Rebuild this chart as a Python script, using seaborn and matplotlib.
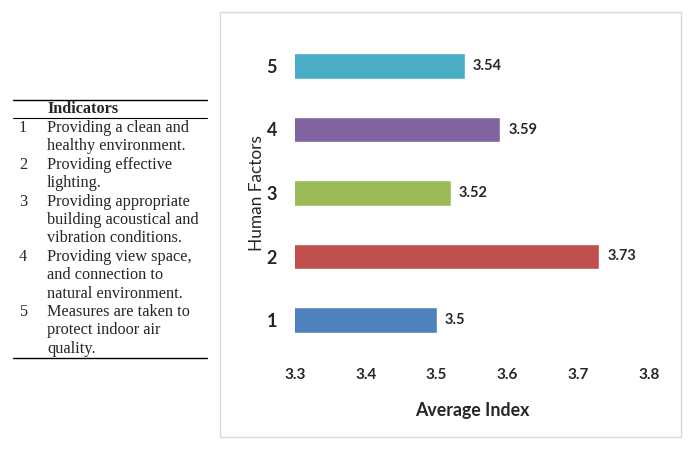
import matplotlib
matplotlib.use("Agg")
import matplotlib.pyplot as plt
import seaborn as sns
import pandas as pd
from matplotlib.patches import Rectangle
from matplotlib.lines import Line2D

factors = ["1", "2", "3", "4", "5"]
values = [3.5, 3.73, 3.52, 3.59, 3.54]
colors = ["#4F81BD", "#C0504D", "#9BBB59", "#8064A2", "#4BACC6"]
x_ticks = [3.3, 3.4, 3.5, 3.6, 3.7, 3.8]
table_header = "Indicators"
indicator_lines = [
    ["Providing a clean and", "healthy environment."],
    ["Providing effective", "lighting."],
    ["Providing appropriate", "building acoustical and", "vibration conditions."],
    ["Providing view space,", "and connection to", "natural environment."],
    ["Measures are taken to", "protect indoor air", "quality."],
]

sns.set_theme(style="white")
plt.rcParams['font.family'] = ['Lato', 'DejaVu Sans']

W, H = 696, 453
fig = plt.figure(figsize=(W / 100, H / 100), dpi=100)

def fx(px):
    return px / W

def fy(py):
    return 1 - py / H

# chart border
fig.patches.append(Rectangle((fx(220), fy(437)), fx(681) - fx(220), fy(12) - fy(437),
                             transform=fig.transFigure, fill=False,
                             edgecolor="#D9D9D9", linewidth=1))

ax = fig.add_axes([fx(295), fy(351.75), fx(649) - fx(295), fy(34.25) - fy(351.75)])
df = pd.DataFrame({"factor": factors, "value": values})
order = ["5", "4", "3", "2", "1"]
pal = dict(zip(factors, colors))
sns.barplot(data=df, x="value", y="factor", order=order, hue="factor",
            palette=pal, width=0.4, ax=ax, legend=False, saturation=1)

ax.set_xlim(3.3, 3.8)
ax.set_ylim(4.5, -0.5)
ax.set_xticks(x_ticks)
ax.set_xticklabels([f"{t:.1f}" for t in x_ticks], fontsize=11, fontweight="bold")
ax.tick_params(axis="x", length=0, pad=12)
ax.tick_params(axis="y", length=0, pad=13)
for lbl in ax.get_yticklabels():
    lbl.set_fontsize(13)
    lbl.set_fontweight("bold")
for s in ax.spines.values():
    s.set_visible(False)
ax.set_xlabel("Average Index", fontsize=12.8, fontweight="bold", labelpad=14)
ax.set_ylabel("Human Factors", fontsize=12.4, labelpad=1)
ax.grid(False)

for i, f in enumerate(order):
    v = values[factors.index(f)]
    ax.text(v + 0.011, i, f"{v:g}", va="center", ha="left", fontsize=10.5, fontweight="bold")

# indicator table
serif = ['Liberation Serif', 'DejaVu Serif']
fs = 11.7
fig.add_artist(Line2D([fx(13), fx(207)], [fy(99.5), fy(99.5)], color="black", lw=1))
fig.add_artist(Line2D([fx(13), fx(207)], [fy(118), fy(118)], color="black", lw=0.8))
fig.add_artist(Line2D([fx(13), fx(207)], [fy(358), fy(358)], color="black", lw=1))
fig.text(fx(47), fy(109), table_header, family=serif, fontsize=fs, fontweight="bold", va="center")
row_y = 128
step = 18.4
for n, lines in enumerate(indicator_lines):
    fig.text(fx(19), fy(row_y), str(n + 1), family=serif, fontsize=fs, va="center")
    for ln in lines:
        fig.text(fx(47), fy(row_y), ln, family=serif, fontsize=fs, va="center")
        row_y += step

fig.savefig("out.png", dpi=100)
